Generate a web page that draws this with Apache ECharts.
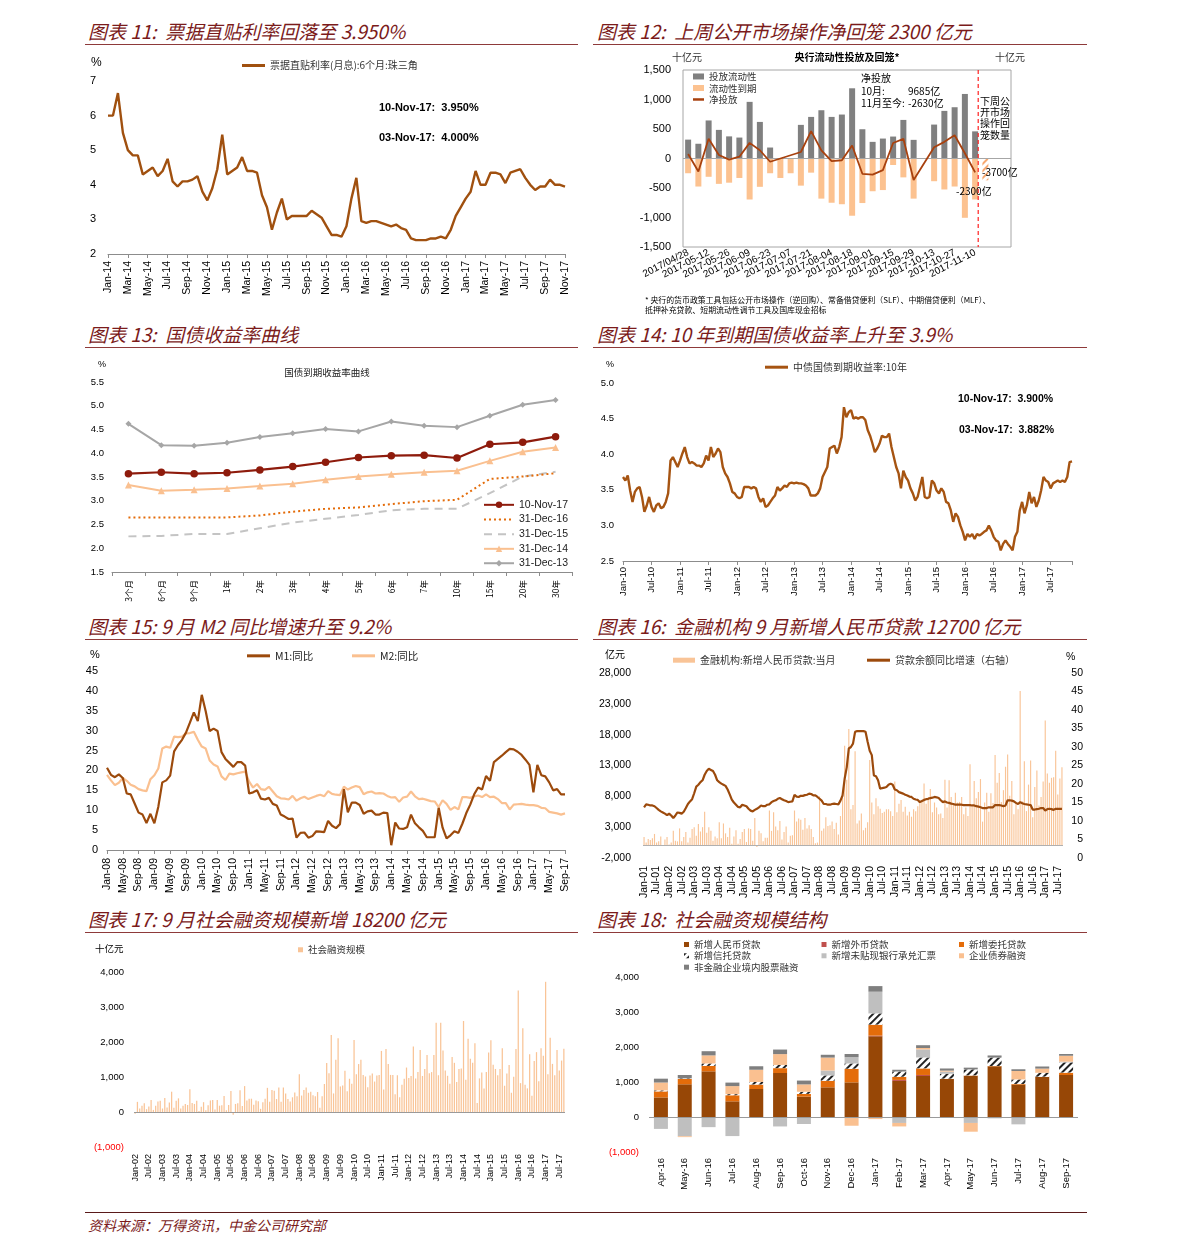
<!DOCTYPE html>
<html><head><meta charset="utf-8"><title>charts</title>
<script src="https://cdn.jsdelivr.net/npm/echarts@6/dist/echarts.min.js"></script>
<style>
body{margin:0;background:#fff;}
#page{position:relative;width:1191px;height:1254px;overflow:hidden;background:#fff;}
.t{position:absolute;font-family:"Noto Sans CJK SC",sans-serif;font-style:italic;font-size:19px;line-height:22px;color:#7B1B1B;white-space:nowrap;}
.r{position:absolute;height:0;border-top:1.5px solid #8E3A3A;}
.c{position:absolute;}
.src{position:absolute;left:88px;top:1214px;font-family:"Noto Sans CJK SC",sans-serif;font-style:italic;font-size:14px;line-height:22px;color:#7B1B1B;white-space:nowrap;}
</style></head>
<body>
<div id="page">
<div class="t" style="left:88px;top:20px">图表 11:&nbsp; 票据直贴利率回落至 3.950%</div>
<div class="r" style="left:85px;top:44px;width:493px"></div>
<div class="t" style="left:597px;top:20px">图表 12:&nbsp; 上周公开市场操作净回笼 2300 亿元</div>
<div class="r" style="left:593px;top:44px;width:494px"></div>
<div class="t" style="left:88px;top:323px">图表 13:&nbsp; 国债收益率曲线</div>
<div class="r" style="left:85px;top:347px;width:493px"></div>
<div class="t" style="left:597px;top:323px">图表 14: 10 年到期国债收益率上升至 3.9%</div>
<div class="r" style="left:593px;top:347px;width:494px"></div>
<div class="t" style="left:88px;top:615px">图表 15: 9 月 M2 同比增速升至 9.2%</div>
<div class="r" style="left:85px;top:639px;width:493px"></div>
<div class="t" style="left:597px;top:615px">图表 16:&nbsp; 金融机构 9 月新增人民币贷款 12700 亿元</div>
<div class="r" style="left:593px;top:639px;width:494px"></div>
<div class="t" style="left:88px;top:908px">图表 17: 9 月社会融资规模新增 18200 亿元</div>
<div class="r" style="left:85px;top:932px;width:493px"></div>
<div class="t" style="left:597px;top:908px">图表 18:&nbsp; 社会融资规模结构</div>
<div class="r" style="left:593px;top:932px;width:494px"></div>
<div class="r" style="left:85px;top:1212px;width:1002px;border-top:1px solid #5a1a1a"></div>
<div class="src">资料来源：万得资讯，中金公司研究部</div>

<div id="c11" class="c" style="left:85px;top:46px;width:500px;height:260px"></div>
<div id="c12" class="c" style="left:590px;top:46px;width:505px;height:275px"></div>
<div id="c13" class="c" style="left:85px;top:350px;width:500px;height:260px"></div>
<div id="c14" class="c" style="left:590px;top:350px;width:505px;height:260px"></div>
<div id="c15" class="c" style="left:85px;top:643px;width:500px;height:255px"></div>
<div id="c16" class="c" style="left:590px;top:643px;width:505px;height:255px"></div>
<div id="c17" class="c" style="left:85px;top:935px;width:500px;height:260px"></div>
<div id="c18" class="c" style="left:590px;top:935px;width:505px;height:260px"></div>
</div>
<script>
// ---------------- DATA ----------------
// Chart 11: bill discount rate, semi-monthly from Jan-14
const rate11Name = '票据直贴利率(月息):6个月:珠三角';
const rate11Start = 2014;
const rate11Step = 0.5; // months per point
const rate11 = [6.0,6.0,6.65,5.5,5.0,4.85,4.85,4.3,4.4,4.5,
4.25,4.4,4.75,4.1,3.95,4.1,4.1,4.15,4.25,3.8,
3.55,3.9,4.45,5.45,4.3,4.4,4.5,4.8,4.4,4.4,
4.35,3.7,3.35,2.7,3.2,3.6,3.0,3.1,3.1,3.1,
3.1,3.25,3.15,3.05,2.8,2.55,2.55,2.5,2.8,3.6,
4.2,2.95,2.9,2.95,2.95,2.9,2.85,2.8,2.85,2.75,
2.7,2.45,2.4,2.4,2.4,2.45,2.45,2.5,2.45,2.7,
3.1,3.35,3.6,3.8,4.4,4.0,4.0,4.35,4.35,4.3,
4.05,4.35,4.4,4.45,4.2,4.0,3.85,3.95,3.95,4.15,
4.0,4.0,3.95];

// Chart 12: weekly OMO (十亿元)
const weeks12 = ['2017/04/28','2017-05-05','2017-05-12','2017-05-19','2017-05-26','2017-06-02','2017-06-09','2017-06-16','2017-06-23','2017-06-30','2017-07-07','2017-07-14','2017-07-21','2017-07-28','2017-08-04','2017-08-11','2017-08-18','2017-08-25','2017-09-01','2017-09-08','2017-09-15','2017-09-22','2017-09-29','2017-10-06','2017-10-13','2017-10-20','2017-10-27','2017-11-03','2017-11-10','2017-11-17','2017-11-24','2017-12-01'];
const inject12 = [320,250,645,485,375,355,960,620,186,0,0,570,705,818,705,745,1190,496,282,338,372,654,316,0,575,807,869,1094,460,null,null,null];
const mature12 = [-250,-475,-310,-430,-410,-330,-695,-480,-250,-330,-250,-460,-240,-680,-750,-775,-970,-755,-555,-535,-110,-320,-680,0,-385,-525,-475,-1005,-695,null,null,null];
const net12 = [75,-220,335,60,-20,30,265,140,-55,null,null,110,465,138,-45,-30,220,-259,-273,-197,262,334,-364,null,190,282,394,89,-235,null,null,null];
const nextWeek12 = [null,null,null,null,null,null,null,null,null,null,null,null,null,null,null,null,null,null,null,null,null,null,null,null,null,null,null,null,null,-370,null,null];

// Chart 13: yield curves
const tenor13 = ['3个月','6个月','9个月','1年','2年','3年','4年','5年','6年','7年','10年','15年','20年','30年'];
const nov17_13 = [3.57,3.60,3.57,3.59,3.65,3.72,3.81,3.91,3.95,3.96,3.90,4.19,4.23,4.35];
const dec16_13 = [2.65,2.65,2.65,2.65,2.69,2.77,2.83,2.86,2.93,2.99,3.02,3.46,3.51,3.58];
const dec15_13 = [2.25,2.26,2.30,2.30,2.42,2.54,2.62,2.70,2.80,2.83,2.83,3.16,3.51,3.61];
const dec14_13 = [3.33,3.21,3.23,3.26,3.31,3.36,3.44,3.51,3.56,3.60,3.63,3.84,4.03,4.12];
const dec13_13 = [4.62,4.17,4.16,4.22,4.34,4.42,4.51,4.46,4.67,4.58,4.55,4.79,5.02,5.12];

// Chart 14: 10y CGB yield, semi-monthly from Jan-10
const y10Start = 2010;
const y10Step = 0.5;
const y10 = [3.68,3.63,3.70,3.49,3.33,3.47,3.52,3.54,3.40,3.19,
3.28,3.40,3.26,3.19,3.28,3.31,3.24,3.26,3.33,3.45,
3.91,3.96,3.89,3.82,3.91,4.01,4.10,3.96,3.87,3.89,
3.87,3.84,3.84,3.82,3.87,3.98,3.91,4.10,3.96,4.01,
4.08,4.03,3.82,3.73,3.68,3.59,3.47,3.45,3.40,3.38,
3.40,3.54,3.54,3.54,3.52,3.54,3.52,3.40,3.33,3.38,
3.26,3.28,3.33,3.38,3.42,3.54,3.49,3.52,3.56,3.54,
3.59,3.60,3.59,3.60,3.59,3.59,3.58,3.56,3.52,3.42,
3.42,3.42,3.45,3.52,3.68,3.75,3.82,4.08,4.10,4.12,
4.01,4.10,4.24,4.66,4.52,4.59,4.62,4.50,4.52,4.50,
4.52,4.52,4.48,4.34,4.26,4.15,4.03,4.08,4.15,4.26,
4.24,4.24,4.29,4.10,3.96,3.82,3.73,3.52,3.77,3.68,
3.63,3.52,3.45,3.35,3.40,3.54,3.68,3.40,3.38,3.40,
3.63,3.59,3.49,3.45,3.52,3.47,3.33,3.31,3.21,3.05,
3.17,3.12,3.00,2.91,2.79,2.88,2.84,2.88,2.81,2.88,
2.86,2.88,2.91,2.93,3.00,2.93,2.84,2.79,2.77,2.65,
2.74,2.79,2.74,2.70,2.65,2.84,2.91,3.21,3.33,3.17,
3.28,3.47,3.31,3.40,3.26,3.35,3.49,3.68,3.63,3.61,
3.52,3.59,3.61,3.63,3.61,3.63,3.61,3.68,3.89,3.90];

// Chart 15: M1 / M2 yoy, monthly from Jan-08
const m15Start = 2008;
const m1 = [20.7,18.9,18.3,19.0,18.1,14.2,14.0,11.7,9.4,8.9,6.8,9.1,
6.7,10.9,17.0,17.5,18.7,24.8,26.4,27.7,29.5,32.0,34.6,32.4,
39.0,34.9,29.9,30.5,29.9,24.6,22.9,21.9,20.9,22.1,22.1,21.2,
14.2,14.5,15.0,12.9,12.7,13.1,11.6,11.2,8.9,8.4,7.8,7.9,
3.1,4.3,4.4,3.1,3.5,4.7,4.6,4.5,7.3,6.1,5.5,6.5,
15.3,9.5,11.9,11.9,11.3,9.1,9.7,9.9,8.9,8.9,9.4,9.3,
1.2,6.9,5.4,5.3,5.7,8.9,6.7,5.7,4.8,3.2,3.2,3.2,
10.6,5.6,2.9,3.7,4.7,4.3,6.6,9.3,11.4,14.0,15.7,15.2,
18.6,17.4,22.1,22.9,23.7,24.6,25.4,25.3,24.7,23.9,22.7,21.4,
14.5,21.4,18.8,18.5,17.0,15.0,15.3,14.0,14.0];
const m2 = [18.9,17.5,16.3,16.9,18.1,17.4,16.4,16.0,15.3,15.0,14.8,17.8,
18.8,20.5,25.5,26.0,25.7,28.5,28.4,28.5,29.3,29.4,29.7,27.7,
26.0,25.5,22.5,21.5,21.0,18.5,17.6,19.2,19.0,19.3,19.5,19.7,
17.2,15.7,16.6,15.3,15.1,15.9,14.7,13.5,13.0,12.9,12.7,13.6,
12.4,13.0,13.4,12.8,13.2,13.6,13.9,13.5,14.8,14.1,13.9,13.8,
15.9,15.2,15.7,16.1,15.8,14.0,14.5,14.7,14.2,14.3,14.2,13.6,
13.2,13.3,12.1,13.2,13.4,14.7,13.5,12.8,12.9,12.6,12.3,12.2,
10.8,12.5,11.6,10.1,10.8,10.2,13.3,13.3,13.1,13.5,13.7,13.3,
14.0,13.3,13.4,12.8,11.8,11.8,10.2,11.4,11.5,11.6,11.4,11.3,
11.3,11.1,10.6,10.5,9.6,9.4,9.2,8.9,9.2];

// Chart 16: new RMB loans (亿元) and loan growth (%), monthly from Jan-01
const l16Start = 2001;
const loans16 = [1400,500,1100,900,1200,1900,500,700,1500,100,1000,1400,
200,500,2400,800,700,2800,700,1400,2200,500,1300,2700,
3000,1600,3500,2300,3000,5500,2100,3000,2400,800,1500,1200,
3800,1200,3600,2000,1400,2900,300,1500,2500,300,1100,2200,
2700,600,2800,2700,800,4500,-200,2400,2000,700,1300,1300,
5700,2400,5400,3100,2500,4000,1000,2200,3100,500,1600,1700,
5700,3900,4400,4200,2600,4500,2800,3300,2700,1400,400,500,
8000,2400,2800,4600,3200,3300,3900,2700,3700,1800,4800,7700,
16200,10700,18900,5900,6600,15300,3600,4100,5200,2500,2900,3800,
13900,7000,5100,7700,6400,6000,5300,5500,5900,5900,5600,4800,
10400,5400,6800,7400,5500,6300,4900,5500,4700,5900,5600,6400,
7400,7100,10100,6800,7900,9200,5400,7000,6200,5100,5200,4500,
10700,6200,10600,7900,6700,8600,7000,7100,7900,5100,6200,4800,
13200,6400,10500,7700,8700,10800,3900,7000,8600,5500,8500,6900,
14700,10200,11800,7100,9000,12800,14800,8100,10500,5100,7100,5900,
25100,7200,13700,5600,9900,13800,4600,9500,12200,6500,7900,10400,
20300,11700,10200,11000,11100,15400,8300,10900,12700];
const growth16 = [13.7,14.5,14.4,14.2,14.2,14.0,13.5,13.0,12.6,12.3,12.0,11.6,
12.0,11.5,10.8,11.5,12.3,12.2,12.0,12.5,13.5,14.6,15.3,15.9,
17.5,19.3,19.8,20.5,21.0,22.5,23.5,24.1,23.8,23.5,22.5,21.0,
20.5,20.1,19.8,19.5,18.5,17.2,15.8,15.0,14.4,13.8,13.7,14.4,
14.2,14.0,13.3,12.8,12.6,13.0,13.3,13.7,14.2,14.0,14.0,14.4,
14.5,15.1,15.4,15.6,16.0,16.2,15.9,15.6,15.4,15.1,15.2,15.3,
17.1,16.6,16.5,16.8,16.8,17.0,17.1,17.4,17.3,16.9,16.9,16.5,
16.0,15.5,14.6,14.6,14.4,14.4,14.6,14.7,14.6,14.5,15.5,16.9,
21.4,24.5,29.6,30.0,30.9,34.1,34.3,34.3,34.3,34.3,34.1,31.4,
29.0,27.8,22.3,22.1,21.0,18.7,18.9,19.0,19.2,19.8,20.1,19.8,
18.5,18.3,17.8,17.6,17.4,17.1,16.9,16.6,16.5,16.0,15.8,15.7,
15.1,15.4,15.7,15.9,16.0,16.2,16.3,16.5,16.4,16.2,15.6,15.1,
15.3,15.0,14.9,14.7,14.6,14.4,14.4,14.4,14.4,14.3,14.3,14.3,
14.3,14.2,14.2,14.0,13.9,13.7,13.5,13.5,13.5,13.7,13.7,13.7,
14.3,14.3,14.3,14.2,14.0,14.2,15.6,15.6,15.5,15.3,14.9,14.6,
15.1,14.8,14.6,14.5,14.4,14.3,13.1,13.1,13.2,13.3,13.5,13.5,
12.8,13.2,13.3,13.2,13.0,13.3,13.3,13.3,13.3];

// Chart 17: total social financing (十亿元), monthly from Jan-02
const sf17Start = 2002;
const sf17 = [-50,290,100,180,250,80,160,340,60,180,300,320,
100,400,130,270,580,120,320,390,100,180,230,200,
650,260,230,320,30,150,280,50,190,330,340,70,
340,180,190,460,50,200,600,-80,230,250,620,170,
740,330,380,380,210,330,310,90,280,380,690,290,
630,610,370,700,290,700,530,370,300,420,560,450,
1080,470,630,700,550,580,480,450,570,120,450,800,
1400,1110,2200,530,1490,2110,730,760,1180,590,950,810,
2060,1080,1370,1490,1060,1015,710,1045,1100,870,1045,1060,
1745,640,1800,1370,1060,1060,510,1050,420,780,950,1270,
970,1030,1870,960,1140,1775,1030,1230,1630,1110,1140,1630,
2550,1050,2550,1755,1185,1035,805,1575,1405,855,1230,1240,
2600,920,2090,1520,1405,1965,255,960,1130,675,1140,1700,
2050,1350,1230,1050,1230,1820,750,1100,1340,550,1005,1800,
3470,825,2390,780,675,1650,465,1460,1710,880,1820,1610,
3720,1080,2125,1375,1050,1775,1185,1470,1810];

// Chart 18: TSF structure (十亿元)
const months18 = ['Apr-16','May-16','Jun-16','Jul-16','Aug-16','Sep-16','Oct-16','Nov-16','Dec-16','Jan-17','Feb-17','Mar-17','Apr-17','May-17','Jun-17','Jul-17','Aug-17','Sep-17'];
const rmb18 = [560,935,1305,448,800,1257,581,848,990,2305,1030,1171,1086,1180,1448,924,1143,1200];
const fx18 = [-30,-30,-20,-10,-10,-30,-10,-20,-20,20,30,30,-10,-10,-20,-10,-20,0];
const entrust18 = [175,155,155,175,130,140,80,190,390,315,90,190,10,10,10,20,10,70];
const trust18 = [25,15,70,30,70,90,60,150,150,320,150,310,140,170,240,130,110,290];
const bills18 = [-310,-520,-270,-535,-10,-240,-190,140,180,620,-170,230,60,-160,-20,-200,-10,20];
const bonds18 = [225,-25,230,230,350,310,210,370,-230,-60,-100,40,30,-250,0,240,120,170];
const equity18 = [110,95,120,100,100,130,110,80,90,160,50,80,60,50,60,50,60,50];

// ---------------- HELPERS ----------------
const FONT = '"Liberation Sans", Arial, "Noto Sans CJK SC", sans-serif';
const CJK = '"Noto Sans CJK SC", "Liberation Sans", sans-serif';
const MON = ['Jan','Feb','Mar','Apr','May','Jun','Jul','Aug','Sep','Oct','Nov','Dec'];
function monLabel(y0, m){ m = Math.round(m); const y = y0 + Math.floor(m/12); return MON[((m%12)+12)%12] + '-' + String(((y%100)+100)%100).padStart(2,'0'); }
function comma(v){ return String(Math.abs(v)).replace(/\B(?=(\d{3})+(?!\d))/g, ','); }
function fmtSigned(v){ return (v<0?'-':'') + comma(v); }
function fmtParen(v){ return v<0 ? '(' + comma(v) + ')' : comma(v); }
function txt(x, y, s, font, extra){
  return Object.assign({type:'text', x:x, y:y, silent:true, z:100,
    style:{text:s, fill:'#000', font:font || ('10px ' + CJK), textAlign:'left', align:'left', textVerticalAlign:'middle', verticalAlign:'middle'}}, extra||{});
}
function ctxt(x, y, s, font, fill){
  return {type:'text', x:x, y:y, silent:true, z:100,
    style:{text:s, fill:fill || '#000', font:font, textAlign:'center', align:'center', textVerticalAlign:'middle', verticalAlign:'middle'}};
}
// one-item legend whose icon/text centre sits on cy
function L(name, left, cy, o){
  o = o || {};
  const h = (o.h != null) ? o.h : 3;
  const fs = o.fs || 10;
  const item = {name:name};
  if (o.icon) item.icon = o.icon;
  return {show:true, left:left, top:cy - Math.max(h, fs*0.9)/2, padding:0, itemGap:0, itemWidth:(o.w || 23), itemHeight:h,
    textStyle:{fontFamily:(o.font || CJK), fontSize:fs, color:(o.color || '#333')}, data:[item]};
}
function G(o){ return Object.assign({outerBoundsMode:'none', containLabel:false}, o); }
function lab(size, extra){ return Object.assign({fontFamily:FONT, fontSize:size, color:'#000'}, extra||{}); }
const noSplit = {show:false};
const axisGrey = {lineStyle:{color:'#8c8c8c', width:1}};
function zeroLine(color){ return {silent:true, symbol:['none','none'], label:{show:false}, lineStyle:{color:color, type:'solid', width:1}, data:[{yAxis:0}]}; }
function init(id){ return echarts.init(document.getElementById(id), null, {renderer:'canvas'}); }

// ---------------- CHART 11 ----------------
const c11 = init('c11');
c11.setOption({
  animation:false,
  grid:G({left:23, right:20, top:35, bottom:52}),
  legend:[L(rate11Name, 157, 19, {icon:'rect', h:3, w:23})],
  xAxis:{type:'value', min:0, max:46, interval:2,
    axisLine:Object.assign({show:true, onZero:false}, axisGrey), axisTick:Object.assign({show:true, length:4}, axisGrey), splitLine:noSplit,
    axisLabel:lab(10.5, {rotate:90, margin:7, formatter:v => monLabel(rate11Start, v)})},
  yAxis:{type:'value', min:2, max:7, interval:1, axisLine:{show:false}, axisTick:{show:false}, splitLine:noSplit,
    axisLabel:lab(11, {margin:12})},
  series:[{name:rate11Name, type:'line', symbol:'none', data:rate11.map((v,i)=>[i*rate11Step, v]),
    lineStyle:{color:'#A0500F', width:2.4}, itemStyle:{color:'#A0500F'}}],
  graphic:[
    txt(6, 17, '%', '12px ' + FONT),
    txt(294, 62, '10-Nov-17:  3.950%', 'bold 11px ' + FONT),
    txt(294, 92, '03-Nov-17:  4.000%', 'bold 11px ' + FONT)
  ]
});

// ---------------- CHART 12 ----------------
const c12 = init('c12');
const hatch12 = {symbol:'rect', symbolSize:1, dashArrayX:[1,0], dashArrayY:[2,3], rotation:-Math.PI/4, color:'#F7A870', backgroundColor:'#ffffff'};
c12.setOption({
  animation:false,
  grid:G({left:93, right:84, top:24, bottom:74, show:true, borderColor:'#A6A6A6', borderWidth:1, backgroundColor:'transparent'}),
  legend:[
    L('投放流动性', 103, 30, {icon:'rect', w:11, h:6, fs:9.5}),
    L('流动性到期', 103, 41.5, {icon:'rect', w:11, h:6, fs:9.5}),
    L('净投放', 103, 53, {icon:'rect', w:11, h:2.5, fs:9.5})
  ],
  xAxis:{type:'category', data:weeks12, boundaryGap:true,
    axisLine:{show:false, onZero:false}, axisTick:{show:false}, splitLine:noSplit,
    axisLabel:lab(10, {rotate:27, margin:5, interval:0, hideOverlap:false,
      formatter:(v, i)=> (i%2===0 && i<=28) ? v : ''})},
  yAxis:{type:'value', min:-1500, max:1500, interval:500, axisLine:{show:false}, axisTick:{show:false}, splitLine:noSplit,
    axisLabel:lab(11, {margin:12, formatter:fmtSigned})},
  series:[
    {name:'投放流动性', type:'bar', stack:'a', barWidth:6, data:inject12, itemStyle:{color:'#808080'}, markLine:zeroLine('#A6A6A6')},
    {name:'流动性到期', type:'bar', stack:'a', barWidth:6, data:mature12, itemStyle:{color:'#FCC290'}},
    {name:'下周到期', type:'bar', stack:'a', barWidth:6, data:nextWeek12, itemStyle:{color:'#ffffff', decal:hatch12}},
    {name:'净投放', type:'line', symbol:'none', connectNulls:true, data:net12, z:5, lineStyle:{color:'#A8410E', width:1.8}, itemStyle:{color:'#A8410E'}}
  ]
});
(function(){
  const xa = c12.convertToPixel({xAxisIndex:0}, 28), xb = c12.convertToPixel({xAxisIndex:0}, 29);
  const yT = c12.convertToPixel({yAxisIndex:0}, 1500), yB = c12.convertToPixel({yAxisIndex:0}, -1500);
  const xr = xa + (xb - xa) * 0.3;
  const f = '10px ' + CJK;
  c12.setOption({graphic:[
    ctxt(97, 11, '十亿元', f, '#333'),
    ctxt(257, 11, '央行流动性投放及回笼*', 'bold 10px ' + CJK, '#000'),
    ctxt(420, 11, '十亿元', f, '#333'),
    txt(271, 32, '净投放', f),
    txt(271, 45, '10月:', f),
    txt(318, 45, '9685亿', f),
    txt(271, 57, '11月至今:', f),
    txt(318, 57, '-2630亿', f),
    txt(390, 55, '下周公', f),
    txt(390, 66, '开市场', f),
    txt(390, 77, '操作回', f),
    txt(390, 89, '笼数量', f),
    txt(392, 126, '-3700亿', f),
    txt(366, 145, '-2300亿', f),
    txt(55, 254, '* 央行的货币政策工具包括公开市场操作（逆回购）、常备借贷便利（SLF）、中期借贷便利（MLF）、', '7.9px ' + CJK),
    txt(55, 264, '抵押补充贷款、短期流动性调节工具及国库现金招标', '7.9px ' + CJK),
    {type:'line', silent:true, z:50, shape:{x1:xr, y1:yT, x2:xr, y2:yB}, style:{stroke:'#FF2020', lineWidth:1.2, lineDash:[4,3]}}
  ]});
})();

// ---------------- CHART 13 ----------------
const c13 = init('c13');
const lf13 = {font:FONT, fs:10.5, color:'#222', w:30};
c13.setOption({
  animation:false,
  grid:G({left:27, right:13, top:32, bottom:38}),
  legend:[
    L('10-Nov-17', 398, 154.3, Object.assign({h:8}, lf13)),
    L('31-Dec-16', 398, 169, Object.assign({h:1}, lf13)),
    L('31-Dec-15', 398, 183.7, Object.assign({h:1}, lf13)),
    L('31-Dec-14', 398, 198.3, Object.assign({h:8}, lf13)),
    L('31-Dec-13', 398, 212.7, Object.assign({h:8}, lf13))
  ],
  xAxis:{type:'category', data:tenor13, boundaryGap:true,
    axisLine:Object.assign({show:true, onZero:false}, axisGrey), axisTick:Object.assign({show:true, length:4, alignWithLabel:false}, axisGrey), splitLine:noSplit,
    axisLabel:{fontFamily:CJK, fontSize:8.5, color:'#000', rotate:90, margin:8, interval:0}},
  yAxis:{type:'value', min:1.5, max:5.5, interval:0.5, axisLine:{show:false}, axisTick:{show:false}, splitLine:noSplit,
    axisLabel:lab(9.5, {margin:8, formatter:v=>v.toFixed(1)})},
  series:[
    {name:'31-Dec-13', type:'line', data:dec13_13, symbol:'diamond', symbolSize:6, lineStyle:{color:'#A6A6A6', width:2}, itemStyle:{color:'#A6A6A6'}},
    {name:'31-Dec-15', type:'line', data:dec15_13, symbol:'none', lineStyle:{color:'#C4C4C4', width:2, type:[8,6]}, itemStyle:{color:'#C4C4C4'}},
    {name:'31-Dec-16', type:'line', data:dec16_13, symbol:'none', lineStyle:{color:'#E46C0A', width:2, type:[2,3]}, itemStyle:{color:'#E46C0A'}},
    {name:'31-Dec-14', type:'line', data:dec14_13, symbol:'triangle', symbolSize:7, lineStyle:{color:'#FAC090', width:2}, itemStyle:{color:'#FAC090'}},
    {name:'10-Nov-17', type:'line', data:nov17_13, symbol:'circle', symbolSize:7.5, z:5, lineStyle:{color:'#8E1B0C', width:2.2}, itemStyle:{color:'#8E1B0C'}}
  ],
  graphic:[
    txt(13, 15, '%', '9px ' + FONT),
    ctxt(242, 22, '国债到期收益率曲线', '9.5px ' + CJK, '#222')
  ]
});

// ---------------- CHART 14 ----------------
const c14 = init('c14');
c14.setOption({
  animation:false,
  grid:G({left:33, right:23, top:33, bottom:49}),
  legend:[L('中债国债到期收益率:10年', 175, 16.7, {icon:'rect', h:3, w:23})],
  xAxis:{type:'value', min:0, max:94.5, interval:6,
    axisLine:Object.assign({show:true, onZero:false}, axisGrey), axisTick:Object.assign({show:true, length:4}, axisGrey), splitLine:noSplit,
    axisLabel:lab(9.5, {rotate:90, margin:6, formatter:v => (Math.abs(v % 6) < 1e-6 ? monLabel(y10Start, v) : '')})},
  yAxis:{type:'value', min:2.5, max:5.0, interval:0.5, axisLine:{show:false}, axisTick:{show:false}, splitLine:noSplit,
    axisLabel:lab(9.5, {margin:9, formatter:v=>v.toFixed(1)})},
  series:[{name:'中债国债到期收益率:10年', type:'line', symbol:'none', data:y10.map((v,i)=>[i*y10Step, v]),
    lineStyle:{color:'#A65412', width:2.4}, itemStyle:{color:'#A65412'}}],
  graphic:[
    txt(16, 15, '%', '9px ' + FONT),
    txt(368, 49, '10-Nov-17:  3.900%', 'bold 10.5px ' + FONT),
    txt(369, 80, '03-Nov-17:  3.882%', 'bold 10.5px ' + FONT)
  ]
});

// ---------------- CHART 15 ----------------
const c15 = init('c15');
c15.setOption({
  animation:false,
  grid:G({left:22, right:20, top:28, bottom:48}),
  legend:[
    L('M1:同比', 162, 12.3, {icon:'rect', h:3, w:23, fs:10.5, color:'#222'}),
    L('M2:同比', 267, 12.3, {icon:'rect', h:3, w:23, fs:10.5, color:'#222'})
  ],
  xAxis:{type:'value', min:0, max:116, interval:4,
    axisLine:Object.assign({show:true, onZero:false}, axisGrey), axisTick:Object.assign({show:true, length:4}, axisGrey), splitLine:noSplit,
    axisLabel:lab(10.5, {rotate:90, margin:8, formatter:v => monLabel(m15Start, v)})},
  yAxis:{type:'value', min:0, max:45, interval:5, axisLine:{show:false}, axisTick:{show:false}, splitLine:noSplit,
    axisLabel:lab(11, {margin:9})},
  series:[
    {name:'M2:同比', type:'line', symbol:'none', data:m2.map((v,i)=>[i,v]), lineStyle:{color:'#FAC090', width:2.2}, itemStyle:{color:'#FAC090'}},
    {name:'M1:同比', type:'line', symbol:'none', data:m1.map((v,i)=>[i,v]), z:5, lineStyle:{color:'#9C4A0C', width:2.2}, itemStyle:{color:'#9C4A0C'}}
  ],
  graphic:[ txt(5, 12, '%', '11px ' + FONT) ]
});

// ---------------- CHART 16 ----------------
const c16 = init('c16');
const months16 = loans16.map((_, i) => monLabel(l16Start, i));
c16.setOption({
  animation:false,
  grid:G({left:53, right:32, top:30, bottom:40}),
  legend:[
    L('金融机构:新增人民币贷款:当月', 83, 16.7, {icon:'rect', h:5, w:22}),
    L('贷款余额同比增速（右轴）', 277, 16.7, {icon:'rect', h:3, w:23})
  ],
  xAxis:{type:'category', data:months16, boundaryGap:true,
    axisLine:{show:false, onZero:false}, axisTick:{show:false}, splitLine:noSplit,
    axisLabel:lab(10.5, {rotate:90, margin:8, interval:(i)=> i%6===0})},
  yAxis:[
    {type:'value', min:-2000, max:28000, interval:5000, axisLine:{show:false}, axisTick:{show:false}, splitLine:noSplit,
      axisLabel:lab(10.5, {margin:12, formatter:fmtSigned})},
    {type:'value', min:0, max:50, interval:5, position:'right', axisLine:{show:false}, axisTick:{show:false}, splitLine:noSplit,
      axisLabel:lab(10.5, {margin:20, align:'right'})}
  ],
  series:[
    {name:'金融机构:新增人民币贷款:当月', type:'bar', data:loans16, barWidth:'55%', itemStyle:{color:'#F9C497'}, markLine:zeroLine('#B0B0B0')},
    {name:'贷款余额同比增速（右轴）', type:'line', yAxisIndex:1, symbol:'none', data:growth16, z:5, lineStyle:{color:'#9C4A0C', width:2.2}, itemStyle:{color:'#9C4A0C'}}
  ],
  graphic:[
    txt(15, 11, '亿元', '10px ' + CJK),
    txt(476, 14, '%', '10.5px ' + FONT)
  ]
});

// ---------------- CHART 17 ----------------
const c17 = init('c17');
const months17 = sf17.map((_, i) => monLabel(sf17Start, i));
c17.setOption({
  animation:false,
  grid:G({left:49, right:20, top:37, bottom:48}),
  legend:[L('社会融资规模', 213, 14.3, {icon:'rect', h:5, w:5, fs:9.5})],
  xAxis:{type:'category', data:months17, boundaryGap:true,
    axisLine:{show:false, onZero:false}, axisTick:{show:false}, splitLine:noSplit,
    axisLabel:lab(9, {rotate:90, margin:7, interval:(i)=> i%6===0})},
  yAxis:{type:'value', min:-1000, max:4000, interval:1000, axisLine:{show:false}, axisTick:{show:false}, splitLine:noSplit,
    axisLabel:lab(9.5, {margin:10, formatter:fmtParen, color:(v)=> (Number(v) < 0 ? '#FF0000' : '#000')})},
  series:[
    {name:'社会融资规模', type:'bar', data:sf17, barWidth:'55%', itemStyle:{color:'#F9C497'}, markLine:zeroLine('#9a9a9a')}
  ],
  graphic:[ txt(10, 13, '十亿元', '9.5px ' + CJK) ]
});

// ---------------- CHART 18 ----------------
const c18 = init('c18');
const hatch18 = {symbol:'rect', symbolSize:1, dashArrayX:[1,0], dashArrayY:[2,2.5], rotation:-Math.PI/4, color:'#222', backgroundColor:'#ffffff'};
const lo18 = {icon:'rect', h:5, w:5, fs:9.5};
c18.setOption({
  animation:false,
  grid:G({left:59, right:17, top:42, bottom:43}),
  legend:[
    L('新增人民币贷款', 94, 9, lo18),
    L('新增信托贷款', 94, 20.3, lo18),
    L('非金融企业境内股票融资', 94, 31.7, lo18),
    L('新增外币贷款', 231.5, 9, lo18),
    L('新增未贴现银行承兑汇票', 231.5, 20.3, lo18),
    L('新增委托贷款', 369, 9, lo18),
    L('企业债券融资', 369, 20.3, lo18)
  ],
  xAxis:{type:'category', data:months18, boundaryGap:true,
    axisLine:{show:false, onZero:false}, axisTick:{show:false}, splitLine:noSplit,
    axisLabel:lab(9.5, {rotate:90, margin:6, interval:0})},
  yAxis:{type:'value', min:-1000, max:4000, interval:1000, axisLine:{show:false}, axisTick:{show:false}, splitLine:noSplit,
    axisLabel:lab(9.5, {margin:10, formatter:fmtParen, color:(v)=> (Number(v) < 0 ? '#FF0000' : '#000')})},
  series:[
    {name:'新增人民币贷款', type:'bar', stack:'s', barWidth:14, data:rmb18, itemStyle:{color:'#974706'}, markLine:zeroLine('#9a9a9a')},
    {name:'新增外币贷款', type:'bar', stack:'s', barWidth:14, data:fx18, itemStyle:{color:'#C0504D'}},
    {name:'新增委托贷款', type:'bar', stack:'s', barWidth:14, data:entrust18, itemStyle:{color:'#E46C0A'}},
    {name:'新增信托贷款', type:'bar', stack:'s', barWidth:14, data:trust18, itemStyle:{color:'#ffffff', decal:hatch18}},
    {name:'新增未贴现银行承兑汇票', type:'bar', stack:'s', barWidth:14, data:bills18, itemStyle:{color:'#BFBFBF'}},
    {name:'企业债券融资', type:'bar', stack:'s', barWidth:14, data:bonds18, itemStyle:{color:'#FAC090'}},
    {name:'非金融企业境内股票融资', type:'bar', stack:'s', barWidth:14, data:equity18, itemStyle:{color:'#7F7F7F'}}
  ]
});
</script>
</body></html>
